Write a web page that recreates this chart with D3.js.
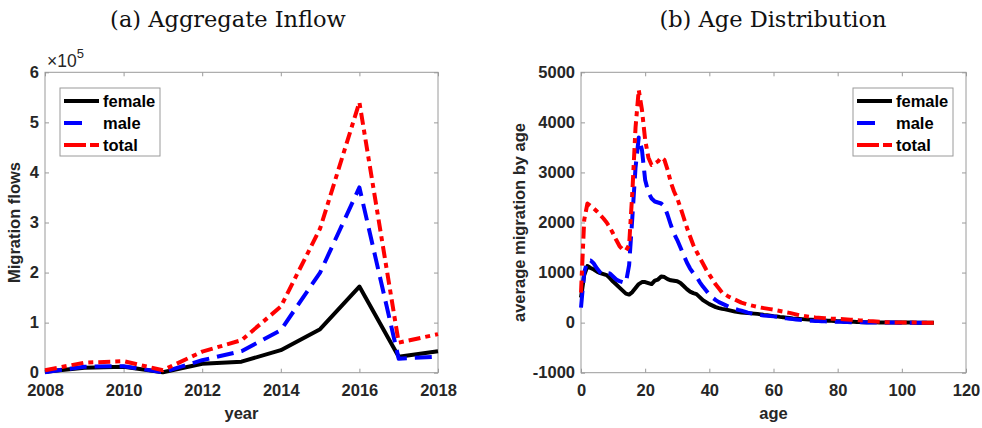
<!DOCTYPE html>
<html>
<head>
<meta charset="utf-8">
<script src="https://cdn.jsdelivr.net/npm/d3@7"></script>
<style>
  html, body { margin: 0; padding: 0; background: #fff; }
  svg { display: block; }
</style>
</head>
<body>
<svg id="chart" width="982" height="428"></svg>
<script>
// ---------- Data: (a) Aggregate Inflow ----------
const years = [2008, 2009, 2010, 2011, 2012, 2013, 2014, 2015, 2016, 2017, 2018];
const inflowFemale = [2000, 10000, 12000, 1000, 18000, 22000, 45000, 87000, 172000, 32000, 43000];
const inflowMale   = [1000, 12000, 13000, 1000, 25000, 43000, 85000, 200000, 370000, 28000, 32000];
const inflowTotal  = [5000, 20000, 23000, 5000, 42000, 65000, 132000, 288000, 540000, 60000, 77000];
const yearTicks = [2008, 2010, 2012, 2014, 2016, 2018];
const inflowTicks = [0, 100000, 200000, 300000, 400000, 500000, 600000];

// ---------- Data: (b) Age Distribution (ages 0..110) ----------
const ages = d3.range(0, 111);
const ageFemale = [
  500, 950, 1130, 1090, 1060, 1020, 990, 970, 950, 890,
  820, 760, 700, 640, 580, 560, 610, 690, 770, 810,
  810, 790, 770, 840, 860, 920, 910, 870, 845, 835,
  825, 790, 730, 670, 620, 590, 570, 510, 450, 410,
  370, 340, 310, 290, 275, 265, 250, 235, 220, 210,
  200, 195, 190, 185, 180, 175, 165, 155, 150, 140,
  130, 125, 115, 108, 100, 92, 85, 80, 75, 70,
  65, 60, 56, 52, 48, 45, 42, 39, 36, 33,
  30, 27, 24, 21, 18, 16, 14, 12, 10, 9,
  8, 7, 6, 5, 4, 3, 3, 2, 2, 2,
  1, 1, 1, 1, 0, 0, 0, 0, 0, 0, 0
];
const ageMale = [
  300, 1000, 1230, 1240, 1180, 1080, 1000, 960, 990, 980,
  920, 860, 830, 810, 800, 1150, 2100, 3100, 3700, 3450,
  2850, 2600, 2480, 2420, 2400, 2380, 2320, 2150, 1950, 1780,
  1650, 1500, 1350, 1200, 1080, 990, 920, 810, 720, 640,
  560, 500, 450, 410, 380, 350, 320, 295, 275, 255,
  240, 220, 200, 185, 170, 160, 150, 140, 135, 130,
  125, 115, 105, 95, 85, 78, 70, 62, 55, 50,
  45, 40, 37, 34, 31, 28, 26, 24, 22, 20,
  18, 16, 14, 12, 10, 9, 8, 7, 6, 5,
  4, 3, 2, 2, 1, 1, 1, 1, 1, 0,
  0, 0, 0, 0, 0, 0, 0, 0, 0, 0, 0
];
const ageTotal = [
  600, 2050, 2380, 2330, 2280, 2220, 2150, 2080, 2000, 1900,
  1780, 1650, 1530, 1460, 1440, 1550, 2600, 3900, 4650, 4250,
  3650, 3300, 3150, 3180, 3220, 3300, 3250, 3050, 2800, 2620,
  2480, 2300, 2100, 1900, 1720, 1550, 1420, 1300, 1180, 1060,
  960, 860, 760, 680, 600, 560, 520, 490, 460, 430,
  400, 380, 360, 345, 330, 315, 300, 290, 280, 270,
  260, 245, 232, 220, 205, 195, 180, 165, 150, 140,
  130, 120, 112, 105, 100, 95, 90, 85, 80, 77,
  75, 71, 67, 63, 59, 55, 50, 45, 40, 35,
  30, 26, 22, 18, 14, 10, 8, 6, 4, 3,
  3, 2, 2, 1, 1, 1, 0, 0, 0, 0, 0
];
const ageTicks = [0, 20, 40, 60, 80, 100, 120];
const avgTicks = [-1000, 0, 1000, 2000, 3000, 4000, 5000];

const seriesNames = ["female", "male", "total"];

// ---------- Styles ----------
const colors = { female: "#000000", male: "#0000ff", total: "#ff0000" };
const dashPlot = { female: null, male: "17,8", total: "12,5,5,5" };
const dashLegend = { female: null, male: "18,17", total: "22,4,9" };
const axisColor = "#9a9a9a";
const textColor = "#262626";
const sansFont = "'Liberation Sans', Arial, sans-serif";
const serifFont = "'DejaVu Serif', 'Liberation Serif', serif";

const svg = d3.select("#chart");
svg.append("rect").attr("width", 982).attr("height", 428).attr("fill", "#fff");

function drawPanel(opts) {
  const { x0, x1, y0, y1, xDomain, yDomain, xTicks, yTicks, xFmt, yFmt,
          xs, series, xLabel, yLabel, yLabelX, title, titleX, legendX } = opts;
  const x = d3.scaleLinear().domain(xDomain).range([x0, x1]);
  const y = d3.scaleLinear().domain(yDomain).range([y1, y0]);
  const g = svg.append("g");

  const styleAxis = sel => {
    sel.select(".domain").remove();
    sel.selectAll(".tick line").attr("stroke", axisColor).attr("stroke-width", 1);
    sel.selectAll(".tick text")
      .attr("fill", textColor)
      .style("font-family", sansFont)
      .style("font-weight", "bold")
      .style("font-size", "16.5px");
  };
  g.append("g").attr("transform", `translate(0,${y1})`)
    .call(d3.axisBottom(x).tickValues(xTicks).tickFormat(xFmt).tickSizeInner(-4).tickSizeOuter(0).tickPadding(12))
    .call(styleAxis);
  g.append("g").attr("transform", `translate(0,${y0})`)
    .call(d3.axisTop(x).tickValues(xTicks).tickFormat("").tickSizeInner(-4).tickSizeOuter(0))
    .call(styleAxis);
  g.append("g").attr("transform", `translate(${x0},0)`)
    .call(d3.axisLeft(y).tickValues(yTicks).tickFormat(yFmt).tickSizeInner(-4).tickSizeOuter(0).tickPadding(6))
    .call(styleAxis);
  g.append("g").attr("transform", `translate(${x1},0)`)
    .call(d3.axisRight(y).tickValues(yTicks).tickFormat("").tickSizeInner(-4).tickSizeOuter(0))
    .call(styleAxis);

  g.append("rect")
    .attr("x", x0).attr("y", y0).attr("width", x1 - x0).attr("height", y1 - y0)
    .attr("fill", "none").attr("stroke", axisColor).attr("stroke-width", 1);

  const line = d3.line().x((d, i) => x(xs[i])).y(d => y(d));
  seriesNames.forEach(name => {
    g.append("path")
      .datum(series[name])
      .attr("d", line)
      .attr("fill", "none")
      .attr("stroke", colors[name])
      .attr("stroke-width", 4)
      .attr("stroke-linejoin", "round")
      .attr("stroke-dasharray", dashPlot[name]);
  });

  g.append("text")
    .attr("x", (x0 + x1) / 2).attr("y", 419)
    .attr("text-anchor", "middle")
    .attr("fill", textColor)
    .style("font-family", sansFont).style("font-weight", "bold").style("font-size", "16.5px")
    .text(xLabel);
  g.append("text")
    .attr("transform", `translate(${yLabelX},${(y0 + y1) / 2}) rotate(-90)`)
    .attr("text-anchor", "middle")
    .attr("fill", textColor)
    .style("font-family", sansFont).style("font-weight", "bold").style("font-size", "16.5px")
    .text(yLabel);

  g.append("text")
    .attr("x", titleX).attr("y", 27)
    .attr("text-anchor", "middle")
    .attr("fill", "#111")
    .style("font-family", serifFont).style("font-size", "22.5px")
    .text(title);

  const lg = g.append("g").attr("transform", `translate(${legendX},88)`);
  lg.append("rect").attr("x", 0).attr("y", 0).attr("width", 100).attr("height", 68)
    .attr("fill", "#fff").attr("stroke", axisColor).attr("stroke-width", 1);
  seriesNames.forEach((name, i) => {
    const ly = 13 + i * 22;
    lg.append("line")
      .attr("x1", 4).attr("x2", 39).attr("y1", ly).attr("y2", ly)
      .attr("stroke", colors[name]).attr("stroke-width", 4)
      .attr("stroke-dasharray", dashLegend[name]);
    lg.append("text")
      .attr("x", 43).attr("y", ly + 6)
      .attr("fill", "#000")
      .style("font-family", sansFont).style("font-weight", "bold").style("font-size", "16.5px")
      .text(name);
  });
  return { x, y, g };
}

const pa = drawPanel({
  x0: 45, x1: 438, y0: 72.3, y1: 372.7,
  xDomain: [2008, 2018], yDomain: [0, 600000],
  xTicks: yearTicks, yTicks: inflowTicks,
  xFmt: d => String(d), yFmt: d => String(d / 100000),
  xs: years,
  series: { female: inflowFemale, male: inflowMale, total: inflowTotal },
  xLabel: "year", yLabel: "Migration flows", yLabelX: 20,
  title: "(a)  Aggregate Inflow", titleX: 228, legendX: 60
});
const expText = pa.g.append("text")
  .attr("x", 47).attr("y", 67)
  .attr("fill", textColor)
  .style("font-family", sansFont).style("font-size", "17.5px");
expText.append("tspan").text("×10");
expText.append("tspan").attr("dy", -9).style("font-size", "13px").text("5");

drawPanel({
  x0: 581, x1: 966, y0: 72.3, y1: 372.7,
  xDomain: [0, 120], yDomain: [-1000, 5000],
  xTicks: ageTicks, yTicks: avgTicks,
  xFmt: d => String(d), yFmt: d => String(d),
  xs: ages,
  series: { female: ageFemale, male: ageMale, total: ageTotal },
  xLabel: "age", yLabel: "average migration by age", yLabelX: 525,
  title: "(b)  Age Distribution", titleX: 773, legendX: 853
});
</script>
</body>
</html>
